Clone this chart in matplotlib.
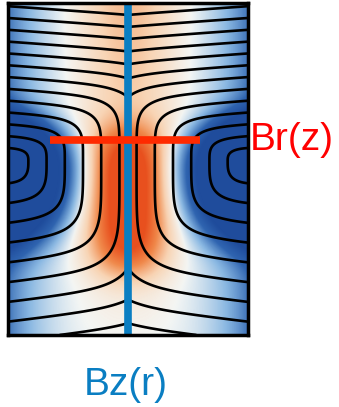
import numpy as np
import matplotlib.pyplot as plt
from matplotlib.colors import LinearSegmentedColormap

# field map grid (half-width 1, height 2.77)
H = 2.77
x = np.linspace(-1, 1, 481)
y = np.linspace(0, H, 665)
X, Y = np.meshgrid(x, y)
U = np.abs(X)

# coil at the outer wall; flux surfaces are rounded boxes around it
y_coil = 1.45
sy_top = 0.58
sy_bot = 0.97
tilt = 0.12

# flux-surface labels (distance from the coil in the box norm)
r_levels = np.arange(0.07, 2.7, 0.17)

dy = np.where(Y > y_coil, (Y - y_coil) / sy_top, (y_coil - Y) / sy_bot)
p_norm = 2.4 + 3.2 * (1.0 - U)   # round near the coil, boxy near the axis
R = ((1.0 - U) ** p_norm + dy ** p_norm) ** (1.0 / p_norm)
psi = R - tilt * U

# colour field: orange core on the axis, blue lobes at the walls
dy_lobe = np.where(Y > 1.38, (Y - 1.38) / 0.78, (1.38 - Y) / 1.05)
R2 = np.sqrt((1.0 - U) ** 2 + dy_lobe ** 2)
core = np.exp(-(U / 0.32) ** 2 - ((Y - 1.12) / 0.6) ** 4)
column = 0.45 * np.exp(-(U / 0.42) ** 2) * np.clip(Y / H, 0, 1) ** 0.7
lobes = 1.2 * np.exp(-(R2 / 0.62) ** 4)
field = core + column - lobes - 0.6 * U ** 3

cmap = LinearSegmentedColormap.from_list(
    "bfield",
    ["#1f4c9c", "#2f64b0", "#8ab8e2", "#f4f6f4", "#f8d4b4", "#f08a4c", "#e8501e"],
)

fig = plt.figure(figsize=(3.39, 4.07), dpi=100)
ax = fig.add_axes([8 / 339, 72 / 407, 240 / 339, 332 / 407])
ax.pcolormesh(X, Y, field, cmap=cmap, vmin=-1, vmax=1, shading="gouraud")
ax.contour(X, Y, psi, levels=r_levels, colors="black", linewidths=1.9, linestyles="solid")

# probe lines
ax.plot([0, 0], [0, H], color="#0a7ec2", lw=5.5, solid_capstyle="butt")
ax.plot([-0.65, 0.6], [1.63, 1.63], color="#ff2a00", lw=5.5, solid_capstyle="butt")

ax.set_xlim(-1, 1)
ax.set_ylim(0, H)
ax.set_xticks([])
ax.set_yticks([])
for s in ax.spines.values():
    s.set_linewidth(2.5)

fig.text(292 / 339, 1 - 150 / 407, "Br(z)", color="#ff0000", fontsize=28,
         ha="center", va="baseline", family="Liberation Sans")
fig.text(126 / 339, 1 - 395 / 407, "Bz(r)", color="#0a7ec2", fontsize=28,
         ha="center", va="baseline", family="Liberation Sans")

fig.savefig("out.png", dpi=100)
